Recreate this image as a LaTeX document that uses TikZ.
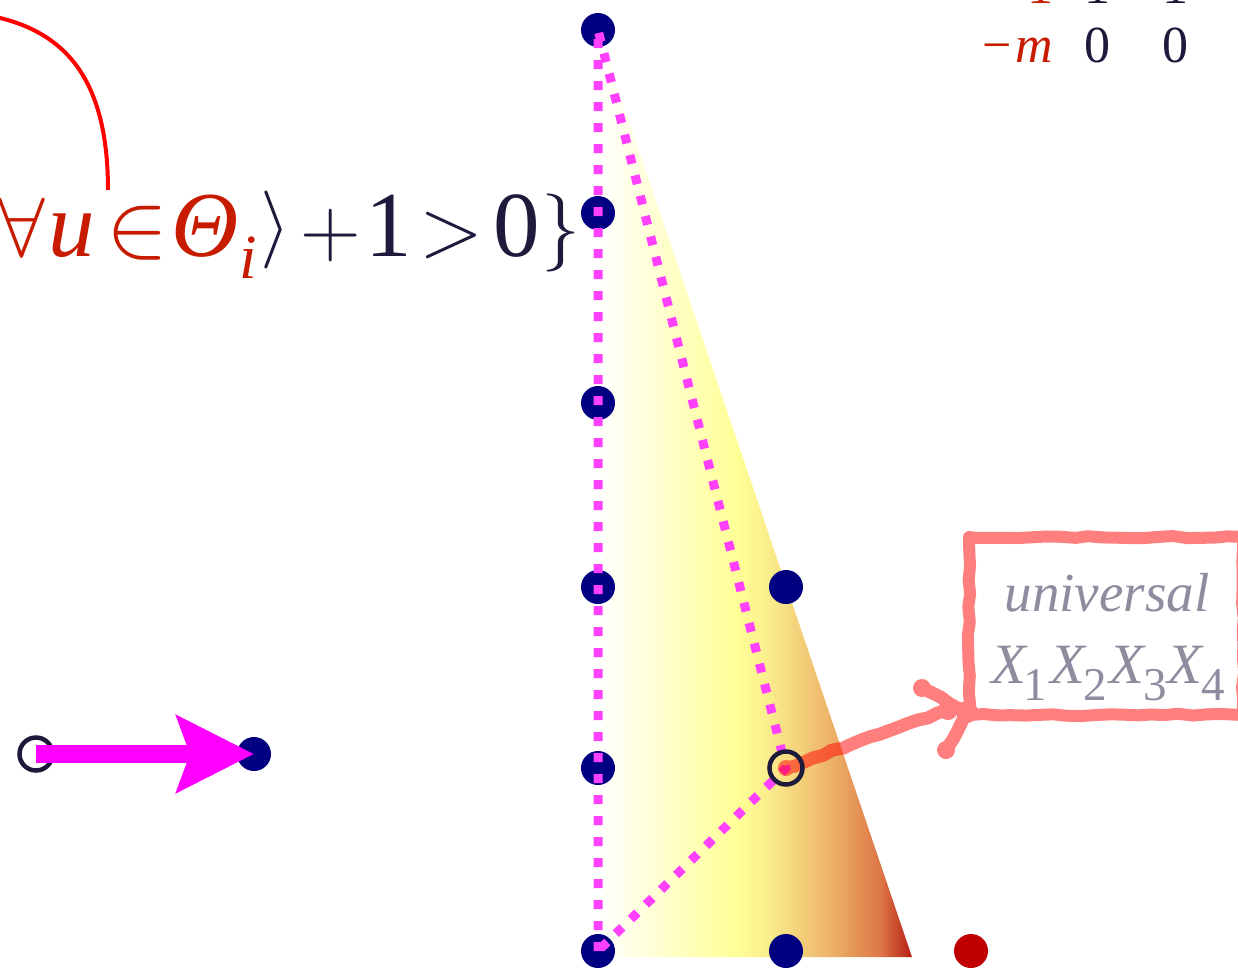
\RequirePackage{fix-cm}
\documentclass[tikz,border=0pt]{standalone}
\usepackage[no-math]{fontspec}
\setmainfont{Liberation Serif}
\usetikzlibrary{arrows.meta,decorations.pathmorphing}
\definecolor{navyd}{RGB}{0,0,128}
\definecolor{inkd}{RGB}{30,26,60}
\definecolor{boxtext}{RGB}{142,140,158}
\definecolor{formred}{RGB}{200,28,0}
\definecolor{dotmag}{RGB}{255,64,255}
\definecolor{magfull}{RGB}{255,0,255}
\definecolor{dred}{RGB}{192,0,0}
\definecolor{shY}{RGB}{255,255,150}
\definecolor{shY2}{RGB}{250,238,140}
\definecolor{shO}{RGB}{236,176,102}
\definecolor{shR}{RGB}{220,118,70}
\definecolor{shD}{RGB}{182,30,18}
\pgfdeclarehorizontalshading{trishade}{100bp}{color(0bp)=(white); color(25bp)=(white); color(47bp)=(shY); color(52bp)=(shY2); color(62.5bp)=(shO); color(70bp)=(shR); color(75bp)=(shD); color(100bp)=(shD)}
\newcommand{\gbox}[2]{\makebox[0pt]{\fontsize{#1}{#1}\selectfont #2}}
\tikzset{
  navydot/.style={circle, fill=navyd, minimum size=17pt, inner sep=0pt},
  reddot/.style={circle, fill=dred, minimum size=17pt, inner sep=0pt},
  ringdot/.style={circle, draw=inkd, line width=2.25pt, minimum size=16.5pt, inner sep=0pt},
  dotline/.style={draw=dotmag, line width=4.5pt, dash pattern=on 4.5pt off 6pt},
  magarrow/.style={draw=magfull, line width=9pt, -{Stealth[length=38.5pt,width=38pt,inset=6.5pt]}},
  txt/.style={inner sep=0pt, anchor=base},
  splat/.style={draw=red, line width=6.5pt, line cap=round, line join=round,
    decorate, decoration={random steps, segment length=5pt, amplitude=0.7pt}},
  handbox/.style={draw=red, line width=6pt, line join=round, minimum width=137pt, minimum height=89pt,
    inner sep=0pt, outer sep=0pt,
    decorate, decoration={random steps, segment length=7pt, amplitude=0.6pt}},
  blob/.style={circle, fill=red, minimum size=10pt, inner sep=0pt}
}
\begin{document}
\begin{tikzpicture}[x=0.5pt, y=-0.5pt]
\useasboundingbox (0,0) rectangle (1238,970);
\clip (0,0) rectangle (1238,970);
% shaded wedge
\shade[shading=trishade] (598,30) -- (912,957) -- (598,957) -- cycle;
% red curve
\coordinate (c0) at (-4,17);
\coordinate (c1) at (108,190);
\draw[red, line width=2pt] (c0) .. controls (62,32) and (108,75) .. (c1);
% formula
\node[inner sep=0pt, anchor=base west, text=inkd] (formula) at (21,256) {%
{\color{formred}\gbox{42pt}{$\forall$}\hspace{25pt}\gbox{46.5pt}{\itshape u}\hspace{33pt}\gbox{46.5pt}{$\in$}\hspace{34pt}\gbox{46.5pt}{\itshape Θ}\hspace{21.5pt}\gbox{31.5pt}{\raisebox{-11pt}{\itshape i}}}%
\hspace{13.5pt}\gbox{39pt}{\raisebox{3.5pt}{$\rangle$}}\hspace{27.5pt}\gbox{42pt}{$+$}\hspace{29pt}\gbox{46.5pt}{1}\hspace{31.5pt}\gbox{42pt}{$>$}\hspace{32.5pt}\gbox{46.5pt}{0}\hspace{22.5pt}\gbox{39pt}{\raisebox{2pt}{$\}$}}};
% matrix fragment
\node[txt, text=formred, font=\fontsize{26pt}{30pt}\selectfont] (m11) at (1040,3) {1};
\node[txt, text=inkd, font=\fontsize{26pt}{30pt}\selectfont] (m12) at (1097,3) {1};
\node[txt, text=inkd, font=\fontsize{26pt}{30pt}\selectfont] (m13) at (1175,3) {1};
\node[txt, text=formred, font=\fontsize{26pt}{30pt}\selectfont] (m21) at (1016,62) {\gbox{26pt}{−}\hspace{18.5pt}\gbox{26pt}{\itshape m}};
\node[txt, text=inkd, font=\fontsize{26pt}{30pt}\selectfont] (m22) at (1097,62) {0};
\node[txt, text=inkd, font=\fontsize{26pt}{30pt}\selectfont] (m23) at (1175,62) {0};
% dots
\node[navydot] (d1) at (598,30) {};
\node[navydot] (d2) at (598,213) {};
\node[navydot] (d3) at (598,403) {};
\node[navydot] (d4) at (598,587) {};
\node[navydot] (d5) at (598,768) {};
\node[navydot] (d6) at (598,951) {};
\node[navydot] (e1) at (786,587) {};
\node[navydot] (e2) at (786,951) {};
\node[reddot] (r1) at (971,951) {};
\coordinate (rc) at (786,768);
% dotted triangle
\draw[dotline] (d6.center) -- (d1.center) -- (rc) -- cycle;
% left arrow
\node[ringdot] (la) at (36,754) {};
\node[navydot] (lb) at (254,754) {};
\draw[magarrow] (la.center) -- (lb.center);
% hand-drawn box and connector
\begin{scope}[transparency group, opacity=0.5]
\node[handbox] (box) at (1106,626) {};
\coordinate (cj) at ([shift={(-2,-3)}]box.south west);
\coordinate (cend) at ([shift={(-21,-5)}]box.south west);
\coordinate (f1) at ([shift={(-47,-27)}]box.south west);
\coordinate (f2) at ([shift={(-23,35)}]box.south west);
\draw[splat] (rc) .. controls (830,752) and (900,726) .. (cend);
\draw[splat] (cj) -- (f1);
\draw[splat] (cj) -- (f2);
\node[blob] at (cend) {};
\node[blob, minimum size=9pt] at (f1) {};
\node[blob, minimum size=9pt] at (f2) {};
\node[blob, minimum size=11pt] at (cj) {};
\node[blob, minimum size=8pt] at (rc) {};
\end{scope}
% box text
\node[txt, text=boxtext, font=\fontsize{27.5pt}{30pt}\selectfont\itshape] (lab1) at (1107,611) {universal};
\node[inner sep=0pt, anchor=base west, text=boxtext] (lab2) at (1008,683) {%
\gbox{28.5pt}{\itshape X}\hspace{13.5pt}\gbox{23.5pt}{\raisebox{-8.5pt}{1}}\hspace{16pt}\gbox{28.5pt}{\itshape X}\hspace{14pt}\gbox{23.5pt}{\raisebox{-8.5pt}{2}}\hspace{15.5pt}\gbox{28.5pt}{\itshape X}\hspace{14.5pt}\gbox{23.5pt}{\raisebox{-8.5pt}{3}}\hspace{15pt}\gbox{28.5pt}{\itshape X}\hspace{14pt}\gbox{23.5pt}{\raisebox{-8.5pt}{4}}};
\node[ringdot] (ring) at (rc) {};
\end{tikzpicture}
\end{document}
